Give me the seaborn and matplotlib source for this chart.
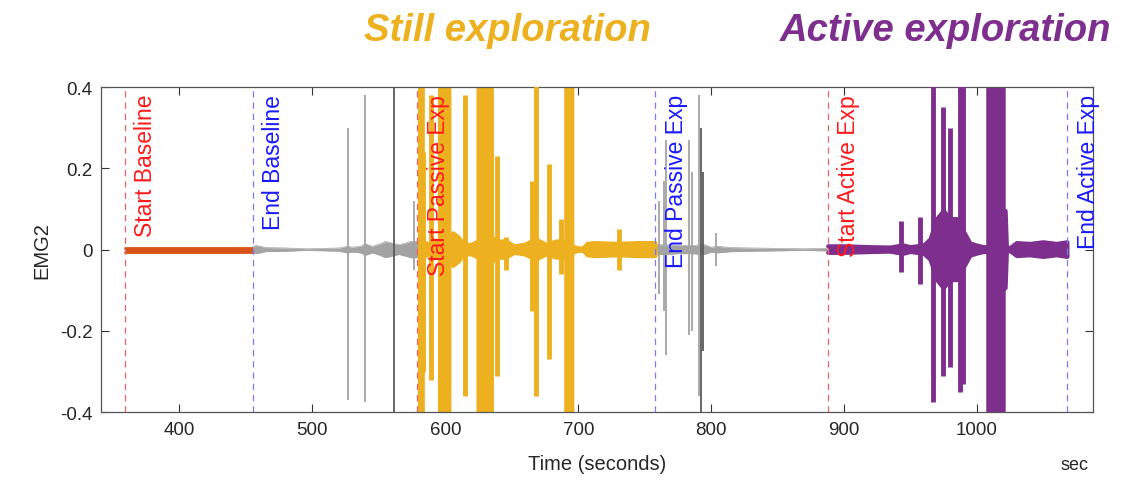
import numpy as np
import pandas as pd
import matplotlib
matplotlib.use("Agg")
import matplotlib.pyplot as plt
import seaborn as sns

# ── Data ─────────────────────────────────────────────────
# event markers
event_t = [359, 455, 579, 758, 888, 1068]
event_lbl = ["Start Baseline", "End Baseline", "Start Passive Exp",
             "End Passive Exp", "Start Active Exp", "End Active Exp"]
event_kind = ["start", "end", "start", "end", "start", "end"]

# baseline segment envelope
base_t = [359, 380, 410, 440, 455]
base_amp = [0.005, 0.005, 0.005, 0.005, 0.005]

# gray (between-phase) envelopes
gray1_t = [455, 458, 465, 480, 496, 510, 520, 526, 530, 536, 540, 545, 550, 555, 560, 565, 570, 574, 579]
gray1_amp = [0.008, 0.010, 0.005, 0.004, 0.002, 0.003, 0.004, 0.008, 0.006, 0.008, 0.014, 0.008,
             0.013, 0.020, 0.016, 0.012, 0.016, 0.020, 0.020]
gray2_t = [758, 765, 775, 785, 795, 800, 805, 815, 830, 850, 870, 885, 888]
gray2_amp = [0.012, 0.012, 0.010, 0.010, 0.012, 0.006, 0.008, 0.005, 0.004, 0.003, 0.002, 0.003, 0.003]

gray_spk_t = [527, 539.5, 576.5, 761, 764.5, 766, 783, 785.5, 791, 803.5]
gray_spk_top = [0.30, 0.38, 0.12, 0.12, 0.17, 0.27, 0.27, 0.19, 0.38, 0.04]
gray_spk_bot = [-0.37, -0.375, -0.05, -0.11, -0.15, -0.26, -0.21, -0.20, -0.36, -0.04]
dark_spk_t = [561, 792.5, 793.5]
dark_spk_top = [0.5, 0.30, 0.19]
dark_spk_bot = [-0.5, -0.40, -0.25]

# still (passive) exploration
still_t = [579, 579, 583, 583, 588, 594, 596, 596, 603, 603, 606, 610, 614, 620, 625, 625, 628, 628,
           631, 631, 635, 635, 640, 646, 652, 660, 668, 676, 684, 691, 691, 695.5, 695.5, 700,
           704, 707, 712, 730, 745, 758]
still_amp = [0.5, 0.5, 0.5, 0.02, 0.012, 0.02, 0.02, 0.5, 0.5, 0.03, 0.04, 0.03, 0.012, 0.012, 0.02, 0.5, 0.5,
             0.03, 0.03, 0.5, 0.5, 0.03, 0.02, 0.02, 0.008, 0.012, 0.025, 0.012, 0.02, 0.02, 0.5, 0.5,
             0.008, 0.003, 0.003, 0.014, 0.016, 0.014, 0.016, 0.016]
still_spk_t = [583, 589, 614.5, 638.5, 646, 665.5, 668.5, 678, 687, 731]
still_spk_top = [0.24, 0.38, 0.38, 0.23, 0.03, 0.17, 0.5, 0.21, 0.075, 0.05]
still_spk_bot = [-0.30, -0.32, -0.36, -0.31, -0.05, -0.15, -0.36, -0.27, -0.06, -0.05]

# active exploration
active_t = [888, 900, 920, 935, 940, 945, 950, 955, 960, 965, 970, 975, 980, 985, 990, 995, 1000,
            1005, 1008.5, 1008.5, 1020, 1020, 1021.5, 1022.5, 1026, 1030, 1040, 1050, 1060, 1068]
active_amp = [0.008, 0.008, 0.006, 0.005, 0.008, 0.010, 0.006, 0.008, 0.010, 0.025, 0.075, 0.095, 0.075,
              0.075, 0.045, 0.015, 0.010, 0.006, 0.006, 0.5, 0.5, 0.095, 0.095, 0.002, 0.006, 0.016,
              0.014, 0.018, 0.014, 0.018]
active_spk_t = [942.5, 957, 967, 974.5, 980, 987.5, 989.5]
active_spk_top = [0.07, 0.08, 0.5, 0.35, 0.30, 0.5, 0.5]
active_spk_bot = [-0.055, -0.085, -0.375, -0.31, -0.29, -0.35, -0.33]

y_ticks = [-0.4, -0.2, 0, 0.2, 0.4]
y_ticklabels = ["-0.4", "-0.2", "0", "0.2", "0.4"]
x_ticks = [400, 500, 600, 700, 800, 900, 1000]

# ── Style ────────────────────────────────────────────────
sns.set_theme(style="white")
plt.rcParams["font.family"] = ["Liberation Sans", "DejaVu Sans"]

BASE_C = "#D95319"
STILL_C = "#EDB120"
ACTIVE_C = "#7E2F8E"
GRAY_C = "#a3a3a3"
DARK_C = "#5a5a5a"

fig = plt.figure(figsize=(11.23, 4.81), dpi=100)
ax = fig.add_axes([0.090, 0.141, 0.883, 0.676])


def draw_env(t, amp, color, lw):
    t = np.asarray(t, float)
    a = np.asarray(amp, float)
    ax.fill_between(t, -a, a, color=color, lw=0, zorder=2)
    d = pd.DataFrame({"t": np.r_[t, t[::-1]], "y": np.r_[a, -a[::-1]]})
    sns.lineplot(data=d, x="t", y="y", sort=False, estimator=None, color=color,
                 lw=lw, ax=ax, zorder=2)


draw_env(base_t, base_amp, BASE_C, 2.0)
draw_env(gray1_t, gray1_amp, GRAY_C, 0.5)
draw_env(gray2_t, gray2_amp, GRAY_C, 0.5)
draw_env(still_t, still_amp, STILL_C, 3.0)
draw_env(active_t, active_amp, ACTIVE_C, 3.0)

ax.vlines(gray_spk_t, gray_spk_bot, gray_spk_top, color=GRAY_C, lw=1.3, zorder=2)
ax.vlines(dark_spk_t, dark_spk_bot, dark_spk_top, color=DARK_C, lw=1.3, zorder=2)
ax.vlines(still_spk_t, still_spk_bot, still_spk_top, color=STILL_C, lw=3.5, zorder=3)
ax.vlines(active_spk_t, active_spk_bot, active_spk_top, color=ACTIVE_C, lw=3.5, zorder=3)

# event lines + labels
for t, lbl, kind in zip(event_t, event_lbl, event_kind):
    lc = "#f0606a" if kind == "start" else "#7b7bf2"
    tc = "#ff1a1a" if kind == "start" else "#1a1aff"
    ax.axvline(t, color=lc, ls=(0, (5, 4)), lw=0.9, zorder=4)
    ax.text(t + 7, 0.383, lbl, rotation=90, ha="left", va="top", color=tc,
            fontsize=16.5, zorder=5)

ax.set_xlim(341, 1087)
ax.set_ylim(-0.4, 0.4)
ax.set_xticks(x_ticks)
ax.set_xticklabels([str(v) for v in x_ticks])
ax.set_yticks(y_ticks)
ax.set_yticklabels(y_ticklabels)
ax.tick_params(direction="in", length=6, width=0.8, color="#333333",
               top=True, right=True, bottom=True, left=True,
               labelsize=13.5, labelcolor="#262626", pad=6)
for s in ax.spines.values():
    s.set_color("#555555")
    s.set_linewidth(0.9)
ax.set_xlabel("Time (seconds)", fontsize=14.5, color="#262626", labelpad=12)
ax.set_ylabel("EMG2", fontsize=14.5, color="#262626", labelpad=6)
ax.grid(False)

fig.text(0.957, 0.033, "sec", fontsize=13, color="#262626", ha="center", va="center")
fig.text(0.452, 0.935, "Still exploration", fontsize=27.5, fontweight="bold", fontstyle="italic",
         color=STILL_C, ha="center", va="center")
fig.text(0.842, 0.935, "Active exploration", fontsize=27.5, fontweight="bold", fontstyle="italic",
         color=ACTIVE_C, ha="center", va="center")

fig.savefig("out.png", dpi=100, facecolor="white")
